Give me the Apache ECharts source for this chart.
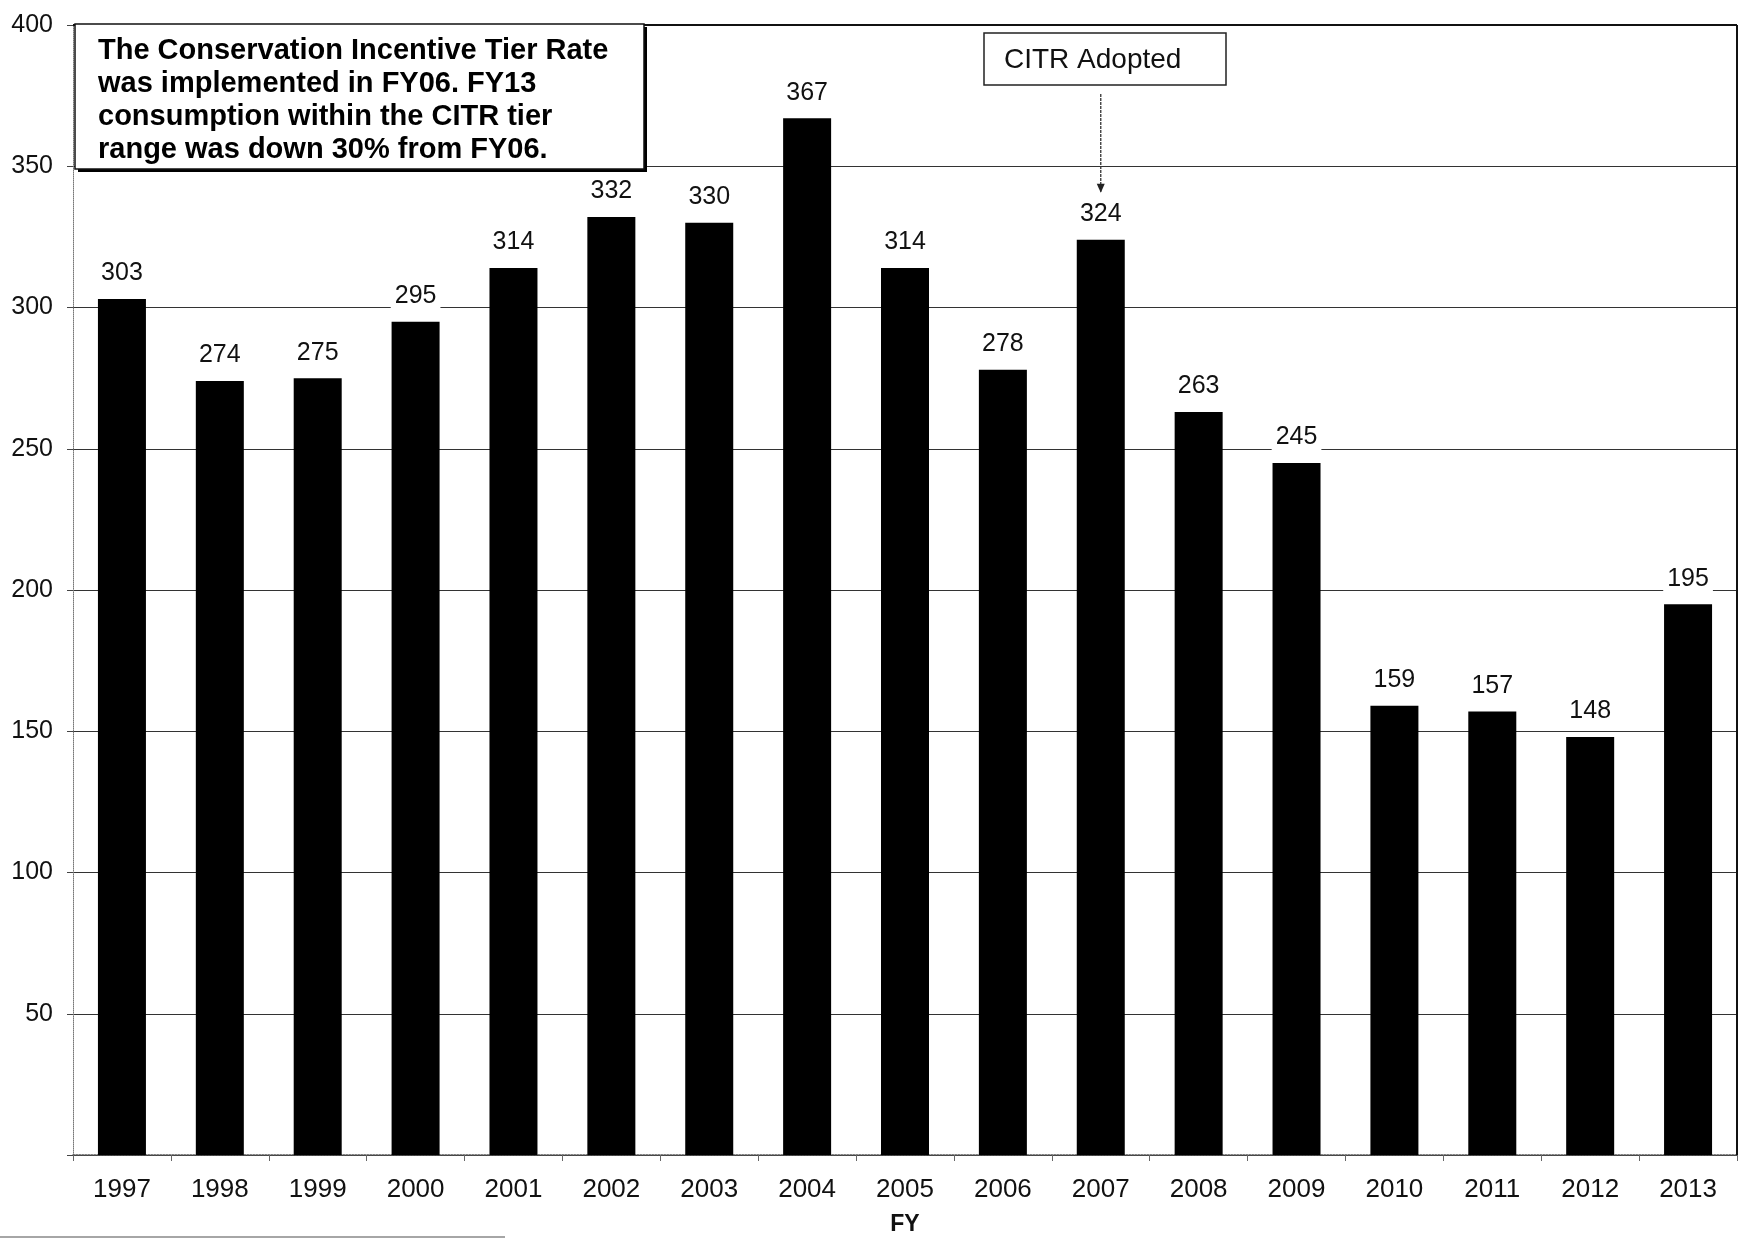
<!DOCTYPE html>
<html>
<head>
<meta charset="utf-8">
<title>CITR tier consumption by FY</title>
<script src="https://cdn.jsdelivr.net/npm/echarts@6/dist/echarts.min.js"></script>
<style>
  html, body { margin: 0; padding: 0; background: #fff; }
  #chart { width: 1740px; height: 1241px; }
</style>
</head>
<body>
<div id="chart"></div>
<script>
// Fiscal years and consumption within the CITR tier range
const years = ['1997', '1998', '1999', '2000', '2001', '2002', '2003', '2004', '2005',
               '2006', '2007', '2008', '2009', '2010', '2011', '2012', '2013'];
const consumption = [303, 274, 275, 295, 314, 332, 330, 367, 314,
                     278, 324, 263, 245, 159, 157, 148, 195];
const yTickStep = 50;
const yMax = 400;
const noteLines = [
  'The Conservation Incentive Tier Rate',
  'was implemented in FY06. FY13',
  'consumption within the CITR tier',
  'range was down 30% from FY06.'
];
const adoptedYear = '2007';
const adoptedText = 'CITR Adopted';

const FONT = '"Liberation Sans", Arial, sans-serif';
const chart = echarts.init(document.getElementById('chart'), null, { renderer: 'canvas' });

const option = {
  backgroundColor: '#fff',
  animation: false,
  grid: { left: 73, right: 3, top: 25, bottom: 74, containLabel: false },
  xAxis: {
    type: 'category',
    data: years,
    name: 'FY',
    nameLocation: 'middle',
    nameGap: 58,
    nameTextStyle: { fontFamily: FONT, fontSize: 23, fontWeight: 'bold', color: '#111' },
    axisLine: { lineStyle: { color: '#555', width: 1.5, type: 'dotted' } },
    axisTick: { show: true, length: 6, lineStyle: { color: '#666' } },
    axisLabel: { fontFamily: FONT, fontSize: 26, color: '#111', margin: 22 },
    splitLine: { show: false }
  },
  yAxis: {
    type: 'value',
    min: 0,
    max: yMax,
    interval: yTickStep,
    axisLine: { show: true, lineStyle: { color: '#777', width: 1, type: 'dotted' } },
    axisTick: { show: true, length: 6, lineStyle: { color: '#444' } },
    axisLabel: {
      fontFamily: FONT, fontSize: 25, color: '#111', margin: 20,
      formatter: v => (v === 0 ? '' : String(v))
    },
    splitLine: { show: true, lineStyle: { color: '#333', width: 1 } }
  },
  series: [{
    type: 'bar',
    data: consumption,
    barWidth: 48,
    itemStyle: { color: '#000' },
    label: {
      show: true,
      position: 'top',
      distance: 12,
      fontFamily: FONT,
      fontSize: 25,
      color: '#111',
      backgroundColor: '#fff',
      padding: [1, 4]
    },
    z: 3
  }]
};
chart.setOption(option);

// Plot-area frame (top and right edges) plus the annotations
const grid = chart.getModel().getComponent('grid').coordinateSystem.getRect();
const adoptedIdx = years.indexOf(adoptedYear);
const arrowX = chart.convertToPixel({ seriesIndex: 0 }, [adoptedIdx, 0])[0];
const barTopY = chart.convertToPixel({ seriesIndex: 0 }, [adoptedIdx, consumption[adoptedIdx]])[1];

const noteChildren = noteLines.map((line, i) => ({
  type: 'text',
  style: {
    text: line, x: 98, y: 51 + i * 33,
    fontFamily: FONT, fontSize: 29, fontWeight: 'bold',
    fill: '#000', verticalAlign: 'middle', align: 'left'
  },
  z: 12
}));

chart.setOption({
  graphic: [
    { type: 'line', shape: { x1: grid.x, y1: grid.y, x2: grid.x + grid.width, y2: grid.y },
      style: { stroke: '#111', lineWidth: 2 }, z: 5 },
    { type: 'line', shape: { x1: grid.x + grid.width, y1: grid.y, x2: grid.x + grid.width, y2: grid.y + grid.height },
      style: { stroke: '#111', lineWidth: 2 }, z: 5 },
    // note box with a slight drop shadow
    { type: 'rect', shape: { x: 78, y: 27, width: 569, height: 145 },
      style: { fill: '#000' }, z: 10 },
    { type: 'rect', shape: { x: 75, y: 24, width: 569, height: 145 },
      style: { fill: '#fff', stroke: '#111', lineWidth: 1.5 }, z: 11 },
    ...noteChildren,
    // "CITR Adopted" callout
    { type: 'rect', shape: { x: 984, y: 33, width: 242, height: 52 },
      style: { fill: '#fff', stroke: '#222', lineWidth: 1.5 }, z: 10 },
    { type: 'text', style: { text: adoptedText, x: 1004, y: 60,
        fontFamily: FONT, fontSize: 28, fill: '#111', verticalAlign: 'middle' }, z: 11 },
    { type: 'line', shape: { x1: arrowX, y1: 94, x2: arrowX, y2: barTopY - 48 },
      style: { stroke: '#333', lineWidth: 1.3, lineDash: [3, 1] }, z: 10 },
    { type: 'polygon', shape: { points: [[arrowX - 4, barTopY - 56], [arrowX + 4, barTopY - 56], [arrowX, barTopY - 47]] },
      style: { fill: '#222' }, z: 10 },
    // rule along the bottom edge of the page
    { type: 'line', shape: { x1: 0, y1: 1237, x2: 505, y2: 1237 },
      style: { stroke: '#888', lineWidth: 1.5 }, z: 5 }
  ]
});
</script>
</body>
</html>
